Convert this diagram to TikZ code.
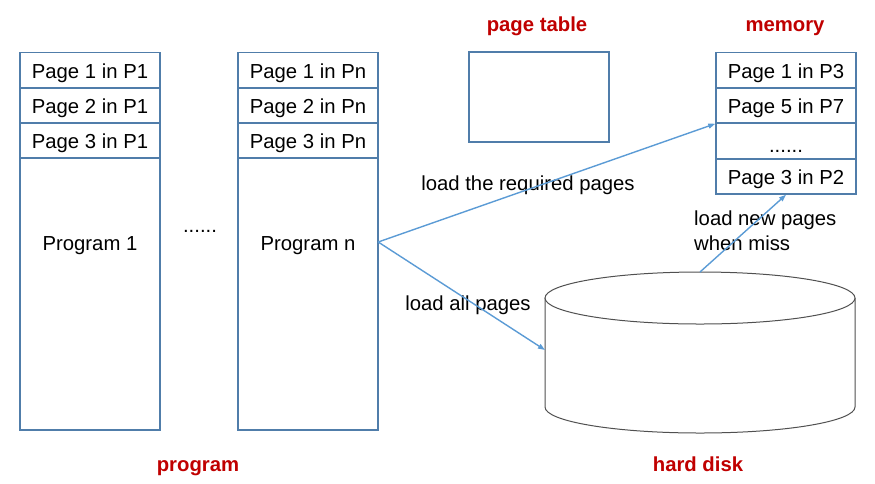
\documentclass[tikz,border=0pt]{standalone}
\usepackage{fontspec}
\setmainfont{Liberation Sans}
\usetikzlibrary{arrows.meta}
\definecolor{boxblue}{RGB}{80,125,170}
\definecolor{arrowblue}{RGB}{91,155,213}
\definecolor{titlered}{RGB}{192,0,0}
\definecolor{diskgray}{RGB}{80,80,80}

\begin{document}
\begin{tikzpicture}[x=1pt,y=-1pt,
  font=\fontsize{20.3}{25}\selectfont,
  textpos/.style={text height=16pt,text depth=0pt},
  pagebox/.style={textpos,draw=boxblue,line width=1.5pt,minimum width=140pt,minimum height=35pt,inner sep=0pt},
  bodybox/.style={draw=boxblue,line width=1.5pt,minimum width=140pt,minimum height=272pt,inner sep=0pt},
  progtext/.style={textpos,minimum width=140pt,inner sep=0pt},
  title/.style={textpos,text=titlered,font=\fontsize{20.3}{25}\selectfont\bfseries},
  load/.style={-{Triangle[length=7pt,width=5pt]},draw=arrowblue,line width=1.4pt}]
\useasboundingbox (0,0) rectangle (875,483);
% nodes

\node[pagebox] (p11) at (90,70) {Page 1 in P1};
\node[pagebox] (p12) at (90,105.5) {Page 2 in P1};
\node[pagebox] (p13) at (90,140.5) {Page 3 in P1};
\node[bodybox] (body1) at (90,294) {};
\node[progtext] (prog1) at (90,242) {Program 1};

\node[anchor=base] (dots) at (200,232) {......};

\node[pagebox] (pn1) at (308,70) {Page 1 in Pn};
\node[pagebox] (pn2) at (308,105.5) {Page 2 in Pn};
\node[pagebox] (pn3) at (308,140.5) {Page 3 in Pn};
\node[bodybox] (bodyn) at (308,294) {};
\node[progtext] (progn) at (308,242) {Program n};

\node[draw=boxblue,line width=1.5pt,minimum width=140pt,minimum height=90pt] (table) at (539,97) {};

\node[pagebox] (m1) at (786,70) {Page 1 in P3};
\node[pagebox] (m2) at (786,105.5) {Page 5 in P7};
\node[pagebox] (m3) at (786,141) {};
\node[anchor=base] (mdots) at (786,152) {......};
\node[pagebox] (m4) at (786,176.5) {Page 3 in P2};

% hard disk
\draw[diskgray,line width=1pt] (545,298) -- (545,407) arc[start angle=180,end angle=0,x radius=155,y radius=26] -- (855,298);
\draw[diskgray,line width=1pt,fill=white] (700,298) ellipse[x radius=155,y radius=26];
\coordinate (disktop) at (700,272);
\coordinate (diskleft) at (545,350);

% labels
\node[title] (ltable) at (537,23) {page table};
\node[title] (lmem) at (785,23) {memory};
\node[title] (lprog) at (198,463) {program};
\node[title] (ldisk) at (698,463) {hard disk};

\node[textpos] (lreq) at (528,182) {load the required pages};
\node[textpos] (lall) at (468,302) {load all pages};
\node[align=left,anchor=west,inner sep=0pt] (lmiss) at (694,230.5) {load new pages\\when miss};

% arrows
\draw [load] (progn.east)--(m2.south west);
\draw [load] (progn.east)--(diskleft);
\draw [load] (disktop)--(m4.south);

\end{tikzpicture}
\end{document}
